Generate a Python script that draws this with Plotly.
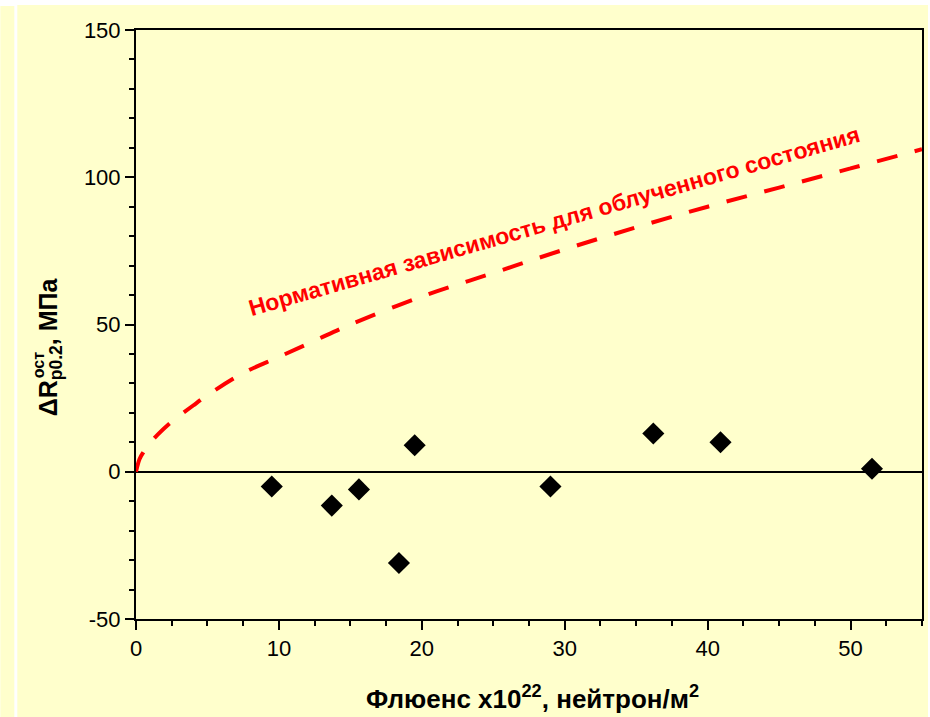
import plotly.graph_objects as go

# Measured points (fluence x1e22 n/m^2, delta R, MPa)
fluence = [9.5, 13.7, 15.6, 18.4, 19.5, 29.0, 36.2, 40.9, 51.5]
delta_r = [-5, -11.5, -6, -31, 9, -5, 13, 10, 1]

# Normative curve
norm_x = [0, 0.25, 0.5, 1, 1.5, 2.5, 4, 5, 7.5, 10, 12.5, 15, 20, 25, 30, 35, 40, 45, 50, 55]
norm_y = [0, 4.3, 6.5, 9.8, 12.5, 17, 22.5, 26, 33.5, 39, 44.5, 50, 59.5, 67.5, 75.5, 83, 90, 96.5, 103, 109.5]

x_ticks = [0, 10, 20, 30, 40, 50]
x_labels = ["0", "10", "20", "30", "40", "50"]
y_ticks = [-50, 0, 50, 100, 150]
y_labels = ["-50", "0", "50", "100", "150"]

YEL = "#FFFFCC"
FONT = "Arial, Liberation Sans, sans-serif"

W, H = 930, 717
L, R, T, B = 136, 924, 30, 619
pw, ph = R - L, B - T

def px(x):
    return (x - L) / pw

def py(y):
    return (B - y) / ph

fig = go.Figure()
fig.add_trace(go.Scatter(
    x=norm_x, y=norm_y, mode="lines", line_shape="spline",
    line=dict(color="#FF0000", width=4, dash="21px,18px"),
    hoverinfo="skip", showlegend=False))
fig.add_trace(go.Scatter(
    x=fluence, y=delta_r, mode="markers",
    marker=dict(symbol="diamond", size=17, color="black"),
    showlegend=False))

axis_common = dict(
    showline=True, linecolor="black", linewidth=2, mirror=True,
    ticks="outside", ticklen=9, tickwidth=2, tickcolor="black",
    showgrid=False,
    tickfont=dict(family=FONT, size=22, color="black"),
)

fig.update_xaxes(range=[0, 55], tickvals=x_ticks, ticktext=x_labels, zeroline=False,
                 minor=dict(dtick=2.5, tick0=0, ticks="outside", ticklen=5, tickwidth=2, tickcolor="black"),
                 **axis_common)
fig.update_yaxes(range=[-50, 150], tickvals=y_ticks, ticktext=y_labels,
                 zeroline=True, zerolinecolor="black", zerolinewidth=1.5,
                 minor=dict(dtick=10, tick0=0, ticks="outside", ticklen=5, tickwidth=2, tickcolor="black"),
                 **axis_common)

shapes = [
    dict(type="rect", xref="paper", yref="paper", x0=px(0), x1=px(14), y0=py(717), y1=py(6),
         fillcolor=YEL, line_width=0, layer="below"),
    dict(type="rect", xref="paper", yref="paper", x0=px(17), x1=px(930), y0=py(717), y1=py(5),
         fillcolor=YEL, line_width=0, layer="below"),
]

annotations = [
    dict(text="Нормативная зависимость для облученного состояния", x=29.3, y=85.0,
         xref="x", yref="y", showarrow=False, textangle=-16,
         font=dict(family=FONT, size=23, color="#FF0000", weight="bold")),
    dict(text="ΔR<sub>p0.2</sub>, МПа", x=px(50), y=py(347),
         xref="paper", yref="paper", showarrow=False, textangle=-90,
         xanchor="center", yanchor="middle",
         font=dict(family=FONT, size=25, color="black", weight="bold")),
    dict(text="ост", x=px(39), y=py(365),
         xref="paper", yref="paper", showarrow=False, textangle=-90,
         xanchor="center", yanchor="middle",
         font=dict(family=FONT, size=16, color="black", weight="bold")),
    dict(text="Флюенс x10<sup>22</sup>, нейтрон/м<sup>2</sup>", x=px(534), y=py(697),
         xref="paper", yref="paper", showarrow=False,
         xanchor="center", yanchor="middle",
         font=dict(family=FONT, size=26, color="black", weight="bold")),
]

fig.update_layout(
    width=W, height=H,
    margin=dict(l=L, r=W - R, t=T, b=H - B, pad=0),
    paper_bgcolor="white", plot_bgcolor=YEL,
    shapes=shapes, annotations=annotations,
    showlegend=False,
)

fig.write_html("out.html", config={"displayModeBar": False},
               post_script="document.body.style.margin='0';document.body.style.overflow='hidden';")
